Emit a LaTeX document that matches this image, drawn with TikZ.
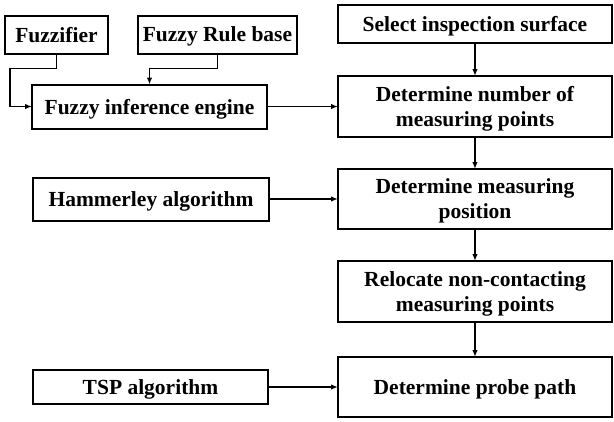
\documentclass[tikz,border=0pt]{standalone}
\usepackage{fontspec}
\setmainfont{Liberation Serif}
\usepackage{tikz}
\usetikzlibrary{positioning,arrows.meta}

\begin{document}
\begin{tikzpicture}[
    node distance=33pt and 70pt,
    block/.style={draw, rectangle, line width=2pt, outer sep=0pt, align=center, inner sep=2pt,
      text depth=0pt, font=\bfseries\fontsize{21.5}{25}\selectfont},
    line/.style={-{Latex[length=7pt,width=5.5pt]}, line width=1.6pt}
]

\useasboundingbox (0,0) rectangle (614pt,-421pt);

% right column: main procedure
\node[block, minimum width=274pt, minimum height=61pt] (number) at (475pt,-106.5pt) {Determine number of\\measuring points};
\node[block, above=of number, minimum width=274pt, minimum height=38pt] (select) {Select inspection surface};
\node[block, below=32pt of number, minimum width=274pt, minimum height=60pt] (position) {Determine measuring\\position};
\node[block, below=32pt of position, minimum width=274pt, minimum height=61pt] (relocate) {Relocate non-contacting\\measuring points};
\node[block, below=35pt of relocate, minimum width=274pt, minimum height=60pt] (path) {Determine probe path};

% left column: supporting methods
\node[block, left=71pt of number, minimum width=235pt, minimum height=44pt] (engine) {Fuzzy inference engine};
\node[block, anchor=south west, minimum width=103pt, minimum height=38pt] (fuzz) at ([xshift=-27pt, yshift=31pt]engine.north west) {Fuzzifier};
\node[block, right=30pt of fuzz, minimum width=159pt, minimum height=38pt] (rule) {Fuzzy Rule base};
\node[block, left=69pt of position, minimum width=236pt, minimum height=43pt] (hammer) {Hammerley algorithm};
\node[block, left=of path, minimum width=235pt, minimum height=34pt] (tsp) {TSP algorithm};

\draw[line] (fuzz.south) -- ++(0,-15pt) -| ([xshift=-22pt]engine.west) -- (engine.west);
\draw[line] (rule.south) -- ++(0,-15pt) -| (engine.north);
\draw[line] (engine) -- (number);
\draw[line] (hammer) -- (position);
\draw[line] (tsp) -- (path);

\draw[line] (select) -- (number);
\draw[line] (number) -- (position);
\draw[line] (position) -- (relocate);
\draw[line] (relocate) -- (path);

\end{tikzpicture}
\end{document}
